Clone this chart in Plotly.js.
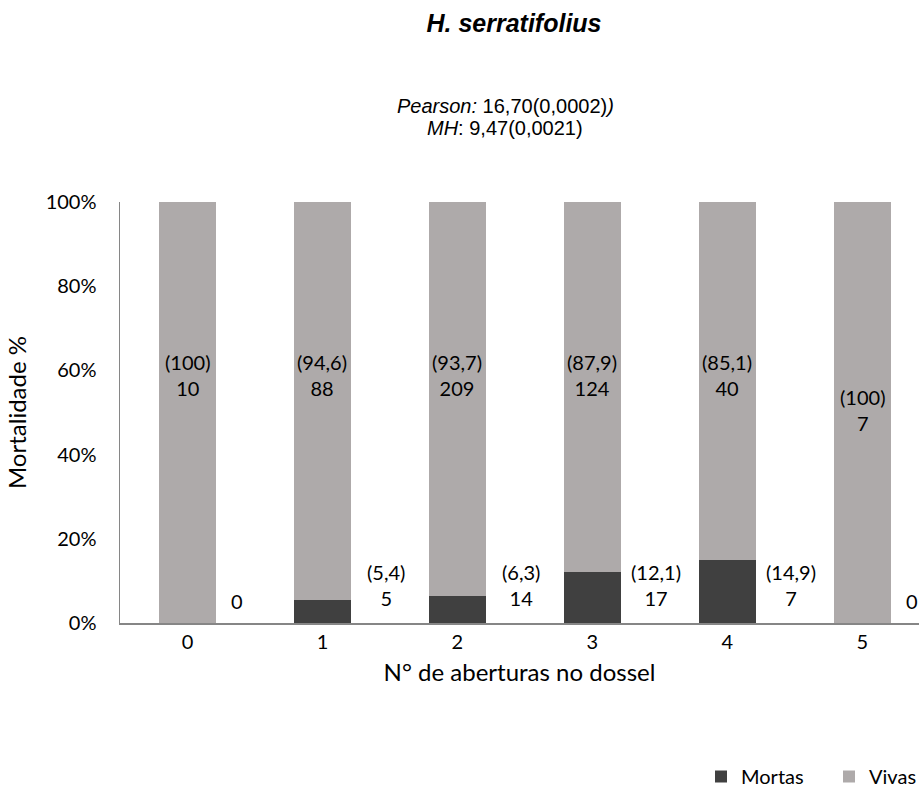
<!DOCTYPE html>
<html>
<head>
<meta charset="utf-8">
<script src="https://cdn.plot.ly/plotly-3.0.1.min.js"></script>
<style>html,body{margin:0;padding:0;background:#fff;}#chart{width:919px;height:796px;}</style>
</head>
<body>
<div id="chart"></div>
<script>
// ---- data ----
const categories = ['0', '1', '2', '3', '4', '5'];
const mortasPct = [0, 5.4, 6.3, 12.1, 14.9, 0];
const vivasPct = [100, 94.6, 93.7, 87.9, 85.1, 100];
const mortasN = [0, 5, 14, 17, 7, 0];
const vivasN = [10, 88, 209, 124, 40, 7];
const mortasPctText = ['', '(5,4)', '(6,3)', '(12,1)', '(14,9)', ''];
const vivasPctText = ['(100)', '(94,6)', '(93,7)', '(87,9)', '(85,1)', '(100)'];
const yTicks = [0, 20, 40, 60, 80, 100];

// ---- style ----
const FONT = 'Lato, "Open Sans", sans-serif';
const ARIAL = '"Liberation Sans", Arial, sans-serif';
const colMortas = '#404040';
const colVivas = '#AEAAAA';
const vivasLabelY = [59, 59, 59, 59, 59, 50.5];

// plot-area geometry helpers (px -> paper)
const PL = 120, PT = 202, PB = 623, W = 919, H = 796;
const PW = W - PL, PH = PB - PT;
const px2x = px => (px - PL) / PW;
const px2y = py => (PB - py) / PH;

const traces = [
  {type: 'bar', name: 'Mortas', x: categories, y: mortasPct, marker: {color: colMortas}, width: 0.42, hoverinfo: 'skip'},
  {type: 'bar', name: 'Vivas', x: categories, y: vivasPct, marker: {color: colVivas}, width: 0.42, hoverinfo: 'skip'}
];

const annotations = [];
categories.forEach((c, i) => {
  annotations.push({
    x: i, y: vivasLabelY[i], xref: 'x', yref: 'y',
    text: vivasPctText[i] + '<br>' + vivasN[i],
    showarrow: false, font: {family: FONT, size: 20, color: '#000'}, align: 'center'
  });
  const two = mortasPctText[i] !== '';
  annotations.push({
    x: i + (two ? 0.474 : 0.37), y: two ? 9.0 : 5.2, xref: 'x', yref: 'y',
    text: two ? (mortasPctText[i] + '<br>' + mortasN[i]) : String(mortasN[i]),
    showarrow: false, font: {family: FONT, size: 20, color: '#000'}, align: 'center'
  });
});
annotations.push({
  xref: 'paper', yref: 'paper', x: px2x(505), y: px2y(106), xanchor: 'center', yanchor: 'middle',
  text: '<i>Pearson:</i> 16,70(0,0002)<i>)</i>', showarrow: false,
  font: {family: ARIAL, size: 20, color: '#000'}
});
annotations.push({
  xref: 'paper', yref: 'paper', x: px2x(505), y: px2y(128), xanchor: 'center', yanchor: 'middle',
  text: '<i>MH</i>: 9,47(0,0021)', showarrow: false,
  font: {family: ARIAL, size: 20, color: '#000'}
});

const layout = {
  width: W, height: H,
  margin: {l: PL, r: 0, t: PT, b: H - PB, autoexpand: false},
  paper_bgcolor: '#fff', plot_bgcolor: '#fff',
  barmode: 'stack',
  title: {
    text: '<b><i>H. serratifolius</i></b>',
    font: {family: ARIAL, size: 25, color: '#000'},
    xref: 'container', yref: 'container', x: 514 / W, y: 1 - 23 / H,
    xanchor: 'center', yanchor: 'middle'
  },
  xaxis: {
    type: 'category', range: [-0.5, 5.42],
    showline: true, linecolor: '#868686', linewidth: 1.5,
    ticks: '', showgrid: false, zeroline: false,
    tickfont: {family: FONT, size: 20, color: '#000'},
    title: {text: 'N° de aberturas no dossel', font: {family: FONT, size: 24, color: '#000'}, standoff: 12},
    automargin: false, fixedrange: true
  },
  yaxis: {
    range: [0, 100], tickvals: yTicks, ticktext: yTicks.map(v => v + '%'),
    showline: true, linecolor: '#868686', linewidth: 1.5,
    ticks: '', showgrid: false, zeroline: false,
    ticklabelstandoff: 18,
    tickfont: {family: FONT, size: 20, color: '#000'},
    title: {text: 'Mortalidade %', font: {family: FONT, size: 24, color: '#000'}, standoff: 12},
    automargin: false, fixedrange: true
  },
  showlegend: true,
  legend: {
    orientation: 'h', traceorder: 'normal',
    x: px2x(701), xanchor: 'left', y: px2y(796), yanchor: 'bottom',
    font: {family: FONT, size: 20, color: '#000'},
    entrywidth: 83, entrywidthmode: 'pixels', itemwidth: 30,
    bgcolor: 'rgba(0,0,0,0)'
  },
  annotations: annotations
};

Plotly.newPlot('chart', traces, layout, {staticPlot: true, displayModeBar: false});
</script>
</body>
</html>
